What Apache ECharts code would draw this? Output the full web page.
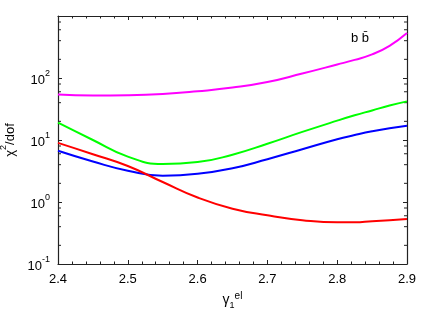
<!DOCTYPE html>
<html>
<head>
<meta charset="utf-8">
<script src="https://cdn.jsdelivr.net/npm/echarts@6/dist/echarts.min.js"></script>
<style>
  html, body { margin: 0; padding: 0; background: #fff; }
  #chiChart { width: 432px; height: 322px; }
</style>
</head>
<body>
<div id="chiChart"></div>
<script>
var gammaVals = [2.40, 2.45, 2.50, 2.55, 2.60, 2.65, 2.70, 2.75, 2.80, 2.825, 2.85, 2.875, 2.90];
var magentaChi = [54, 52, 52.5, 55, 61, 70, 86, 118, 165, 196, 240, 330, 530];
var greenChi = [19, 10, 5.4, 4.1, 4.4, 5.8, 8.7, 13.5, 20.5, 25, 30, 36, 42];
var blueChi = [6.7, 4.5, 3.2, 2.66, 2.85, 3.5, 4.9, 7.1, 10.3, 12.0, 13.8, 15.5, 17];
var redChi = [9.0, 5.9, 3.8, 2.1, 1.18, 0.78, 0.61, 0.51, 0.47, 0.47, 0.49, 0.51, 0.53];

var yMinorTicks = [0.2, 0.4, 0.6, 0.8, 2, 4, 6, 8, 20, 40, 60, 80, 200, 400, 600, 800];
var yTickLabels = { "0.1": "-1", "1": "0", "10": "1", "100": "2" };

var fontName = "Liberation Sans";
var frameColor = "#222";

function pairs(ys) {
  return gammaVals.map(function(x, i) { return [x, ys[i]]; });
}

function curve(name, color, ys) {
  return {
    name: name,
    type: "line",
    data: pairs(ys),
    smooth: 0.5,
    showSymbol: false,
    lineStyle: { color: color, width: 2 },
    z: 3
  };
}

var chartDom = document.getElementById("chiChart");
var myChart = echarts.init(chartDom);
var option;

var xCommon = {
  type: "value",
  min: 2.4,
  max: 2.9,
  interval: 0.1,
  axisLine: { show: true, lineStyle: { color: frameColor, width: 1.2 } },
  axisTick: { inside: true, length: 4, lineStyle: { color: frameColor } },
  minorTick: { show: true, splitNumber: 5, length: 2.5, lineStyle: { color: frameColor } },
  splitLine: { show: false }
};

var yCommon = {
  type: "log",
  logBase: 10,
  min: 0.1,
  max: 1000,
  axisLine: { show: true, lineStyle: { color: frameColor, width: 1.2 } },
  axisTick: { inside: true, length: 4, lineStyle: { color: frameColor } },
  splitLine: { show: false }
};

option = {
  animation: false,
  textStyle: { fontFamily: fontName },
  grid: { left: 58, right: 25, top: 16, bottom: 58, containLabel: false, outerBoundsMode: "none" },
  xAxis: [
    Object.assign({}, xCommon, {
      position: "bottom",
      axisLabel: {
        margin: 9,
        color: "#000",
        fontSize: 13,
        fontFamily: fontName,
        formatter: function(v) { return v.toFixed(1); }
      },
      name: "{g|γ}{sub|1}{sup|el}",
      nameLocation: "middle",
      nameGap: 27,
      nameTextStyle: {
        rich: {
          g: { fontSize: 14, fontFamily: fontName, color: "#000", lineHeight: 16, verticalAlign: "bottom" },
          sub: { fontSize: 9, fontFamily: fontName, color: "#000", verticalAlign: "bottom", lineHeight: 16, padding: [0, 0, -3, 0] },
          sup: { fontSize: 10, fontFamily: fontName, color: "#000", verticalAlign: "top", lineHeight: 16, padding: [0, 0, 2, 0] }
        }
      }
    }),
    Object.assign({}, xCommon, {
      position: "top",
      axisLabel: { show: false }
    })
  ],
  yAxis: [
    Object.assign({}, yCommon, {
      position: "left",
      axisLabel: {
        margin: 8,
        color: "#000",
        fontFamily: fontName,
        formatter: function(v) {
          var e = yTickLabels[String(+v)];
          if (e === undefined) return "";
          return "{b|10}{s|" + e + "}";
        },
        rich: {
          b: { fontSize: 13, fontFamily: fontName, color: "#000", lineHeight: 18, verticalAlign: "bottom" },
          s: { fontSize: 9, fontFamily: fontName, color: "#000", lineHeight: 18, verticalAlign: "top" }
        }
      },
      name: "{c|χ}{s|2}{c|/dof}",
      nameLocation: "middle",
      nameGap: 36,
      nameRotate: 90,
      nameTextStyle: {
        rich: {
          c: { fontSize: 13, fontFamily: fontName, color: "#000", lineHeight: 18, verticalAlign: "bottom" },
          s: { fontSize: 9, fontFamily: fontName, color: "#000", lineHeight: 18, verticalAlign: "top" }
        }
      }
    }),
    Object.assign({}, yCommon, {
      position: "right",
      axisLabel: { show: false }
    })
  ],
  graphic: [
    {
      type: "text",
      left: 351,
      top: 32,
      style: { text: "b b\u0304", fontSize: 13, fontFamily: fontName, fill: "#000" }
    }
  ],
  series: [
    curve("magenta", "#ff00ff", magentaChi),
    curve("green", "#00ff00", greenChi),
    curve("blue", "#0000ff", blueChi),
    curve("red", "#ff0000", redChi),
    {
      // minor log ticks on the left and right frame edges
      type: "custom",
      data: yMinorTicks,
      silent: true,
      z: 2,
      renderItem: function(params, api) {
        var v = api.value(0);
        var left = api.coord([2.4, v]);
        var right = api.coord([2.9, v]);
        return {
          type: "group",
          children: [
            { type: "line", shape: { x1: left[0], y1: left[1], x2: left[0] + 3, y2: left[1] }, style: { stroke: frameColor, lineWidth: 1 } },
            { type: "line", shape: { x1: right[0] - 3, y1: right[1], x2: right[0], y2: right[1] }, style: { stroke: frameColor, lineWidth: 1 } }
          ]
        };
      },
      encode: { y: 0 }
    }
  ]
};

option && myChart.setOption(option);
</script>
</body>
</html>
